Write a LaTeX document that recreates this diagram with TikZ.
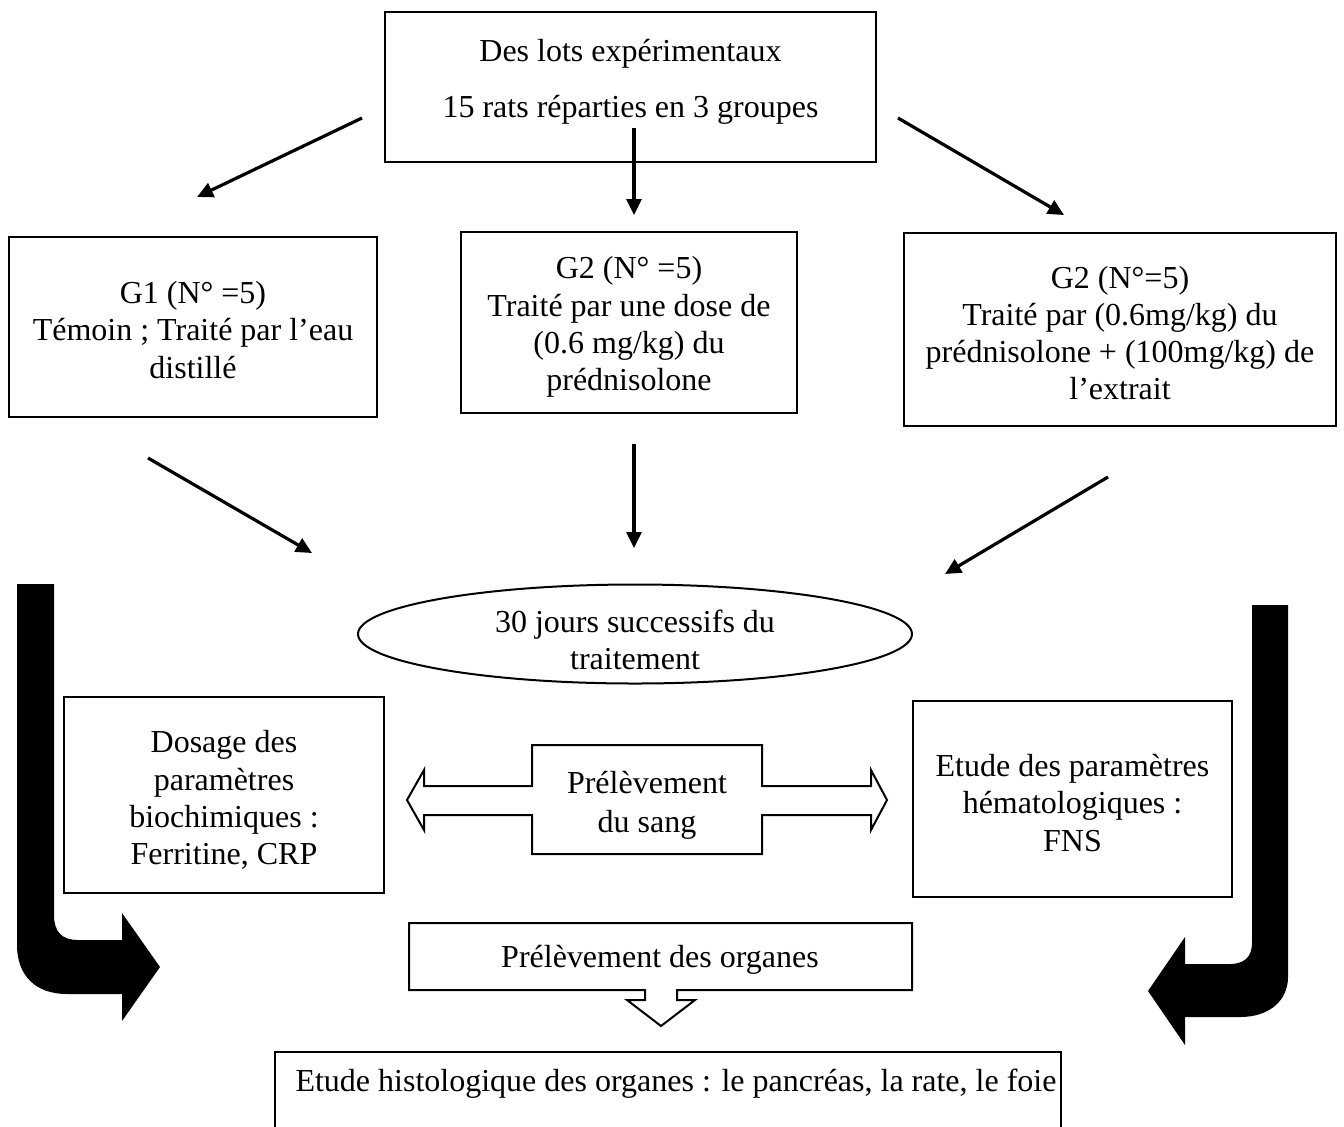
\documentclass[tikz,border=0pt]{standalone}
\usepackage{fontspec}
\setmainfont{Liberation Serif}
\usetikzlibrary{shapes.geometric,arrows.meta}
\begin{document}
\begin{tikzpicture}[x=0.5pt,y=-0.5pt,
  every node/.style={font=\fontsize{16}{18.6}\selectfont, align=center},
  box/.style={draw, line width=1pt, inner sep=0pt},
  arr/.style={line width=1.6pt, -{Triangle[length=8pt,width=7.5pt]}},
  hollow/.style={draw, line width=1pt, fill=white},
  bigarrow/.style={fill=black, draw=none}]
\useasboundingbox (0,0) rectangle (1344,1126);

% top box
\node[box, minimum width=245.5pt, minimum height=75pt] (top) at (630.5,87) {};
\node (toptxt) at (630.5,82) {Des lots expérimentaux\\[9.5pt]15 rats réparties en 3 groupes};

% group boxes
\node[box, minimum width=184pt, minimum height=90pt] (g1) at (193,327) {};
\node (g1txt) at (193,330) {G1 (N° =5)\\Témoin ; Traité par l’eau\\distillé};
\node[box, minimum width=168pt, minimum height=90.5pt] (g2) at (629,322.5) {};
\node (g2txt) at (629,327) {G2 (N° =5)\\Traité par une dose de\\(0.6 mg/kg) du\\prédnisolone};
\node[box, minimum width=216pt, minimum height=96.5pt] (g3) at (1120,329.5) {};
\node (g3txt) at (1120,333) {G2 (N°=5)\\Traité par (0.6mg/kg) du\\prédnisolone + (100mg/kg) de\\l’extrait};

% arrows from top
\coordinate (a1s) at (362,118); \coordinate (a1e) at (197,197);
\coordinate (a2s) at (634,128); \coordinate (a2e) at (634,215);
\coordinate (a3s) at (898,118); \coordinate (a3e) at (1064,215);
\draw[arr] (a1s) -- (a1e);
\draw[arr] (a2s) -- (a2e);
\draw[arr] (a3s) -- (a3e);

% arrows to ellipse
\coordinate (b1s) at (148,458); \coordinate (b1e) at (312,553);
\coordinate (b2s) at (634,444); \coordinate (b2e) at (634,548);
\coordinate (b3s) at (1108,477); \coordinate (b3e) at (945,574);
\draw[arr] (b1s) -- (b1e);
\draw[arr] (b2s) -- (b2e);
\draw[arr] (b3s) -- (b3e);

% ellipse
\node[ellipse, draw, line width=1pt, minimum width=277pt, minimum height=49.5pt, inner sep=0pt] (ell) at (635,634) {};
\node (elltxt) at (635,640) {30 jours successifs du\\traitement};

% side boxes
\node[box, minimum width=160pt, minimum height=98pt] (dos) at (224,795) {};
\node (dostxt) at (224,800) {Dosage des\\paramètres\\biochimiques :\\Ferritine, CRP};
\node[box, minimum width=159.5pt, minimum height=98pt] (hem) at (1072.5,799) {};
\node (hemtxt) at (1072.5,803) {Etude des paramètres\\hématologiques :\\FNS};

% double arrow (Prélèvement du sang)
\draw[hollow] (532,745) -- (762,745) -- (762,786) -- (871,786) -- (871,770) -- (887,800)
  -- (871,830) -- (871,815) -- (762,815) -- (762,854) -- (532,854) -- (532,815)
  -- (424,815) -- (424,830) -- (407,800) -- (424,770) -- (424,786) -- (532,786) -- cycle;
\node (sang) at (647,805) {Prélèvement\\[1pt]du sang};

% organes callout
\draw[hollow] (409,923) -- (912,923) -- (912,990) -- (677,990) -- (677,1000) -- (695,1000)
  -- (661,1026) -- (627,1000) -- (645,1000) -- (645,990) -- (409,990) -- cycle;
\node (org) at (660,960) {Prélèvement des organes};

% bottom box (cut by the page)
\draw[line width=1pt] (275,1130) -- (275,1052) -- (1061,1052) -- (1061,1130);
\node (hist) at (676,1084) {Etude histologique des organes : le pancréas, la rate, le foie};

% big bent arrows
\fill[bigarrow] (17,584) -- (54,584) -- (54,915) .. controls (54,932) and (62,940) .. (78,940)
  -- (122,940) -- (122,913) -- (160,967) -- (122,1021) -- (122,994) -- (67,994)
  .. controls (35,994) and (17,975) .. (17,945) -- cycle;
\fill[bigarrow] (1288,605) -- (1252,605) -- (1252,943) .. controls (1252,957) and (1244,964) .. (1230,964)
  -- (1185,964) -- (1185,937) -- (1148,991) -- (1185,1045) -- (1185,1017) -- (1240,1017)
  .. controls (1270,1017) and (1288,1000) .. (1288,977) -- cycle;
\end{tikzpicture}
\end{document}
